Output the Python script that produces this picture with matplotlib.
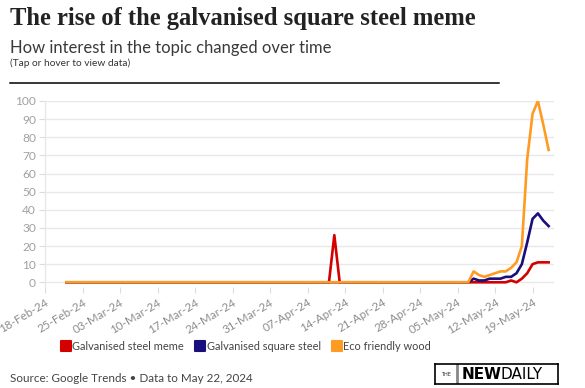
import matplotlib

matplotlib.use("Agg")
import matplotlib.dates as mdates
import matplotlib.pyplot as plt
import numpy as np
import pandas as pd
from matplotlib.lines import Line2D
from matplotlib.markers import MarkerStyle


# Google Trends daily interest, 22 Feb to 22 May 2024 (flat zero except where listed)
START = "2024-02-22"
END = "2024-05-22"
MEME_SPIKE_DATES = ["2024-04-11", "2024-04-12", "2024-04-13"]
MEME_SPIKE_VALUES = [0, 26, 0]
LATE_START = "2024-05-07"
meme_late = [0, 0, 0, 0, 0, 0, 0, 0, 1, 0, 2, 5, 10, 11, 11, 11]
square_late = [0, 2, 1, 1, 2, 2, 2, 3, 3, 5, 10, 22, 35, 38, 34, 31]
wood_late = [0, 6, 4, 3, 4, 5, 6, 6, 8, 11, 20, 68, 93, 100, 87, 73]

SERIES_NAMES = ["Galvanised steel meme", "Galvanised square steel", "Eco friendly wood"]
SERIES_COLORS = ["#d40000", "#180f7c", "#ff9b22"]

TICK_START = "2024-02-18"
TICK_END = "2024-05-19"


def build_series(late_values, spike_dates=None, spike_values=None):
    dates = pd.date_range(START, END, freq="D")
    s = pd.Series(0.0, index=dates)
    late_idx = pd.date_range(LATE_START, periods=len(late_values), freq="D")
    s.loc[late_idx] = late_values
    if spike_dates:
        s.loc[pd.to_datetime(spike_dates)] = spike_values
    return s


series = [
    build_series(meme_late, MEME_SPIKE_DATES, MEME_SPIKE_VALUES),
    build_series(square_late),
    build_series(wood_late),
]

W, H = 585, 388
fig = plt.figure(figsize=(W / 100, H / 100), dpi=100)
ax = fig.add_axes([45 / W, (H - 287) / H, (554 - 45) / W, (287 - 101) / H])

for s, color in zip(series, SERIES_COLORS):
    ax.plot(s.index, s.values, color=color, linewidth=1.9, solid_joinstyle="round", zorder=3)

ax.set_xlim(pd.Timestamp(TICK_START), pd.Timestamp("2024-05-23"))
ax.set_ylim(-2.6, 100)
ax.set_yticks(np.arange(0, 101, 10))
ax.set_xticks(pd.date_range(TICK_START, TICK_END, freq="7D"))
ax.xaxis.set_major_formatter(mdates.DateFormatter("%d-%b-%y"))

ax.grid(axis="y", color="#e8e8e8", linewidth=1.0, zorder=0)
for side in ["top", "right", "bottom"]:
    ax.spines[side].set_visible(False)
ax.spines["left"].set_color("#e8e8e8")
ax.spines["left"].set_linewidth(1.0)

ax.tick_params(axis="y", length=4.5, width=0.8, color="#dddddd", labelsize=8.6,
               labelcolor="#a0a0a0", pad=2)
ax.tick_params(axis="x", length=4, width=0.8, color="#dddddd", labelsize=8.4,
               labelcolor="#8c8c8c", pad=3)
for lbl in ax.get_yticklabels():
    lbl.set_family("Lato")
for lbl in ax.get_xticklabels():
    lbl.set_family("Lato")
    lbl.set_rotation(31)
    lbl.set_ha("right")
    lbl.set_rotation_mode("anchor")

# header
fig.text(10 / W, (H - 25) / H, "The rise of the galvanised square steel meme",
         family="Liberation Serif", weight="bold", fontsize=17.7, color="#222222", va="baseline")
fig.text(10 / W, (H - 53) / H, "How interest in the topic changed over time",
         family="Lato", fontsize=12.0, color="#3a3a3a", va="baseline")
fig.text(10 / W, (H - 65.5) / H, "(Tap or hover to view data)",
         family="Lato", fontsize=7.3, color="#333333", va="baseline")
fig.add_artist(Line2D([10 / W, 499 / W], [(H - 83) / H] * 2, color="black", linewidth=1.1))

# legend
marker = MarkerStyle("s", joinstyle="round")
handles = [
    Line2D([], [], marker=marker, linestyle="none", markersize=7.5, color=c,
           markeredgecolor=c, markeredgewidth=1.5)
    for c in SERIES_COLORS
]
fig.legend(handles, SERIES_NAMES, loc="center", bbox_to_anchor=(246 / W, (H - 346) / H),
           ncol=3, frameon=False, handletextpad=0.15, columnspacing=1.0, handlelength=0.9,
           prop={"family": "Lato", "size": 7.9}, labelcolor="#444444")

# footer
fig.text(10 / W, (H - 382) / H, "Source: Google Trends \u2022 Data to May 22, 2024",
         family="Lato", fontsize=8.4, color="#444444", va="baseline")

# logo box
logo = fig.add_axes([435 / W, (H - 384) / H, (558 - 435) / W, 20 / H])
logo.set_xlim(0, 123)
logo.set_ylim(0, 20)
logo.set_xticks([])
logo.set_yticks([])
for sp in logo.spines.values():
    sp.set_linewidth(1.2)
    sp.set_color("black")
logo.axvline(22, color="#888888", linewidth=2)
logo.text(11, 10, "THE", fontsize=3.6, ha="center", va="center", family="DejaVu Sans", color="#222222")
logo.text(27, 9.5, "NEW", fontsize=11, weight="bold", ha="left", va="center",
          family="DejaVu Sans", color="black")
logo.text(65, 9.5, "DAILY", fontsize=11, ha="left", va="center", family="DejaVu Sans", color="black")

fig.savefig("out.png", dpi=100)
